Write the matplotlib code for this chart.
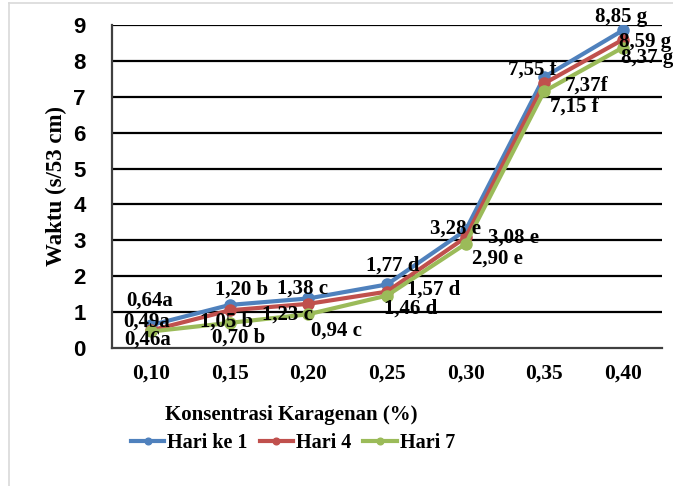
import numpy as np
import matplotlib.pyplot as plt
from matplotlib.lines import Line2D

konsentrasi = ['0,10', '0,15', '0,20', '0,25', '0,30', '0,35', '0,40']
hari1 = [0.64, 1.20, 1.38, 1.77, 3.28, 7.55, 8.85]
hari4 = [0.49, 1.05, 1.23, 1.57, 3.08, 7.37, 8.59]
hari7 = [0.46, 0.70, 0.94, 1.46, 2.90, 7.15, 8.37]
lab1 = ['0,64a', '1,20 b', '1,38 c', '1,77 d', '3,28 e', '7,55 f', '8,85 g']
lab4 = ['0,49a', '1,05 b', '1,23 c', '1,57 d', '3,08 e', '7,37f', '8,59 g']
lab7 = ['0,46a', '0,70 b', '0,94 c', '1,46 d', '2,90 e', '7,15 f', '8,37 g']

serif = 'Liberation Serif'
narrow = ['Liberation Sans Narrow', 'Liberation Sans']

fig = plt.figure(figsize=(6.73, 4.86), dpi=100)
ax = fig.add_axes([0.1664, 0.284, 0.8173, 0.6646])
x = np.arange(len(konsentrasi))

for y in range(1, 10):
    ax.axhline(y, color='black', lw=1.6, zorder=1)

ax.plot(x, hari1, color='#4F81BD', lw=3, marker='o', ms=8, label='Hari ke 1', zorder=3)
ax.plot(x, hari4, color='#C0504D', lw=3, marker='o', ms=8, label='Hari 4', zorder=4)
ax.plot(x, hari7, color='#9BBB59', lw=3, marker='o', ms=8, label='Hari 7', zorder=5)

# label offsets in pixels (dx, dy) from each point
off1 = [(-2, 24), (12, 15), (-6, 10), (6, 19), (-10, 2), (-12, 7), (-2, 13)]
off4 = [(-5, 9), (-3, -11), (-21, -11), (47, 2), (48, 0), (42, -2), (22, -2)]
off7 = [(-4, -8), (9, -15), (28, -16), (24, -13), (32, -15), (30, -15), (24, -10)]
for vals, labs, offs in [(hari1, lab1, off1), (hari4, lab4, off4), (hari7, lab7, off7)]:
    for i, (v, t) in enumerate(zip(vals, labs)):
        ax.annotate(t, (x[i], v), xytext=offs[i], textcoords='offset pixels',
                    ha='center', va='center', fontsize=15, fontweight='bold',
                    family=serif, color='black', zorder=6)

ax.set_xlim(-0.5, len(konsentrasi) - 0.5)
ax.set_ylim(0, 9)
ax.set_yticks(range(0, 10))
ax.set_xticks(x)
ax.set_xticklabels(konsentrasi, family=serif, fontweight='bold', fontsize=15.5)
for t in ax.get_yticklabels():
    t.set_fontweight('bold')
    t.set_fontsize(16)
    t.set_family(narrow)
ax.tick_params(axis='x', length=0, pad=11)
ax.tick_params(axis='y', length=0, pad=19)

for s in ['top', 'right']:
    ax.spines[s].set_visible(False)
ax.spines['left'].set_color('#404040')
ax.spines['left'].set_linewidth(1.6)
ax.spines['bottom'].set_color('#404040')
ax.spines['bottom'].set_linewidth(1.6)

ax.set_ylabel('Waktu (s/53 cm)', family=serif, fontweight='bold', fontsize=16.5)
ax.yaxis.set_label_coords(-0.082, 0.5)
fig.text(291 / 673, 1 - 415 / 486, 'Konsentrasi Karagenan (%)', ha='center', va='center',
         family=serif, fontweight='bold', fontsize=15)

fig.legend(loc='center', bbox_to_anchor=(293 / 673, 1 - 443 / 486), ncol=3, frameon=False,
           prop={'family': serif, 'weight': 'bold', 'size': 14.5}, handlelength=1.65,
           handletextpad=0.15, columnspacing=0.6, markerscale=0.6)

# page border
fig.add_artist(Line2D([9 / 673, 9 / 673], [0, 1 - 3 / 486], color='#d9d9d9', lw=1.2))
fig.add_artist(Line2D([9 / 673, 1], [1 - 3 / 486, 1 - 3 / 486], color='#d9d9d9', lw=1.2))

fig.savefig('out.png', dpi=100)
